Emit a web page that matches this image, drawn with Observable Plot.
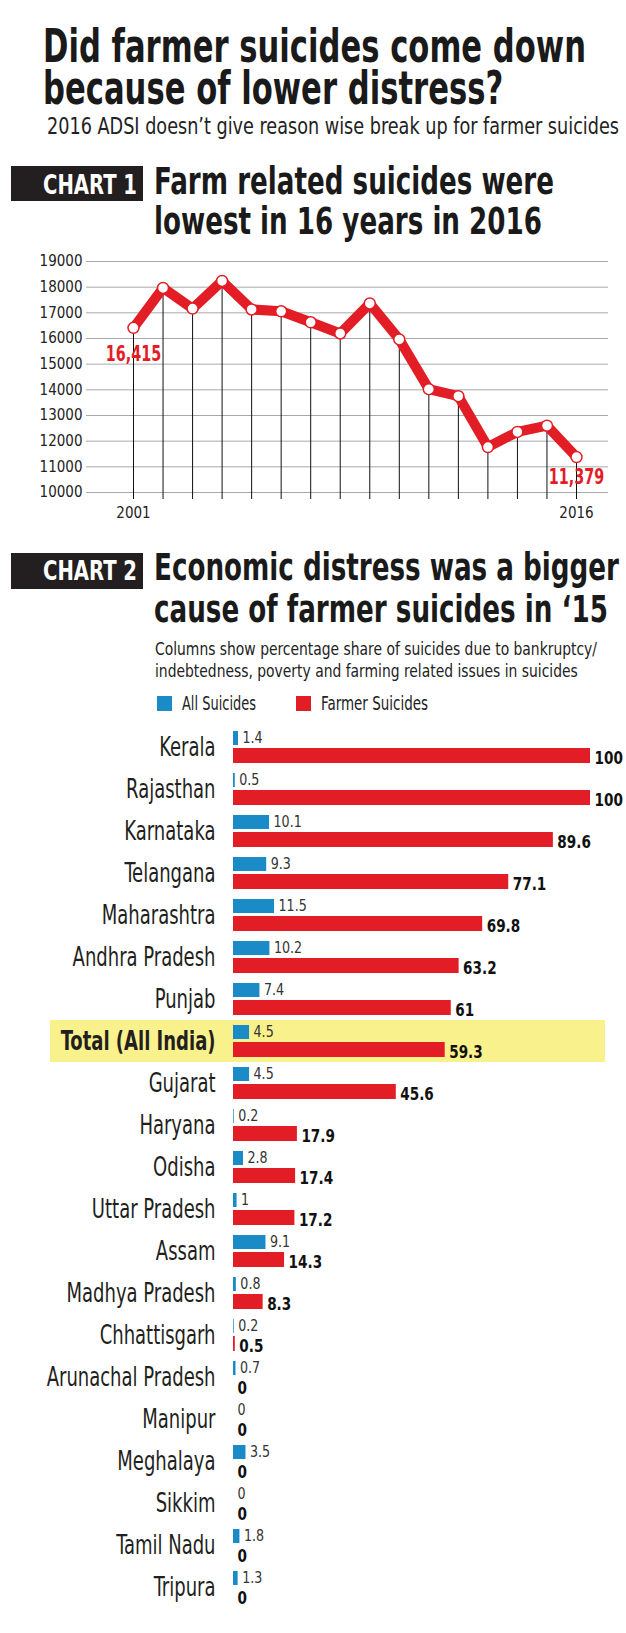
<!DOCTYPE html>
<html><head><meta charset="utf-8">
<script src="https://cdn.jsdelivr.net/npm/d3@7"></script>
<script src="https://cdn.jsdelivr.net/npm/@observablehq/plot@0.6"></script>
<style>
html,body{margin:0;padding:0;background:#fff;}
#page{position:relative;width:626px;height:1633px;overflow:hidden;background:#fff;}
#page > svg{position:absolute;left:0;}
.ht{position:absolute;white-space:nowrap;transform-origin:0 0;margin:0;padding:0;}
</style></head><body><div id="page"></div>
<script>
// ---------- DATA ----------
const years = [2001,2002,2003,2004,2005,2006,2007,2008,2009,2010,2011,2012,2013,2014,2015,2016];
const farmSuicides = [16415,17971,17164,18241,17131,17060,16632,16196,17368,15964,14027,13754,11772,12360,12602,11379];
const yTicks = [10000,11000,12000,13000,14000,15000,16000,17000,18000,19000];
const xTicks = [2001,2016];
const labelledYears = [2001,2016];

const states = ["Kerala","Rajasthan","Karnataka","Telangana","Maharashtra","Andhra Pradesh","Punjab","Total (All India)","Gujarat","Haryana","Odisha","Uttar Pradesh","Assam","Madhya Pradesh","Chhattisgarh","Arunachal Pradesh","Manipur","Meghalaya","Sikkim","Tamil Nadu","Tripura"];
const allSuicides = [1.4,0.5,10.1,9.3,11.5,10.2,7.4,4.5,4.5,0.2,2.8,1,9.1,0.8,0.2,0.7,0,3.5,0,1.8,1.3];
const farmerSuicides = [100,100,89.6,77.1,69.8,63.2,61,59.3,45.6,17.9,17.4,17.2,14.3,8.3,0.5,0,0,0,0,0,0];
const highlightState = "Total (All India)";
const seriesNames = ["All Suicides","Farmer Suicides"];

const title = ["Did farmer suicides come down","because of lower distress?"];
const subtitle = "2016 ADSI doesn\u2019t give reason wise break up for farmer suicides";
const chart1Tag = "CHART 1";
const chart1Head = ["Farm related suicides were","lowest in 16 years in 2016"];
const chart2Tag = "CHART 2";
const chart2Head = ["Economic distress was a bigger","cause of farmer suicides in \u201815"];
const chart2Note = ["Columns show percentage share of suicides due to bankruptcy/","indebtedness, poverty and farming related issues in suicides"];

// ---------- STYLE ----------
const FONT = "'Liberation Sans Narrow','DejaVu Sans Condensed','Roboto Condensed','Open Sans Condensed','Arial Narrow','Liberation Sans',sans-serif";
const RED = "#e31d25", BLUE = "#1a8bc7", INK = "#231f20", YELLOW = "#f9f18c";
const page = document.getElementById("page");
const ctx = document.createElement("canvas").getContext("2d");

// squeeze an svg text horizontally around its own anchor point
function squeeze(el, k, ax = 0, ay = 0){
  const t = el.getAttribute("transform") || "";
  el.setAttribute("transform", `${t} translate(${ax},${ay}) scale(${k},1) translate(${-ax},${-ay})`);
}

// HTML text block: x = left (or right edge when anchor "end"), baseline of first line, fitted width of first line
function hblock(lines, x, baseline, lh, size, weight, targetW, color = "#1a1a1a", anchor = "start"){
  const fontStr = `${weight} ${size}px ${FONT}`;
  ctx.font = fontStr;
  const m = ctx.measureText(lines[0]);
  const a = m.fontBoundingBoxAscent ?? size * 0.93, d = m.fontBoundingBoxDescent ?? size * 0.24;
  const L = lh || Math.ceil(a + d);
  const k = targetW / m.width;
  const div = document.createElement("div");
  div.className = "ht";
  div.style.font = fontStr;
  div.style.lineHeight = L + "px";
  div.style.color = color;
  div.style.left = (anchor === "end" ? x - targetW : x) + "px";
  div.style.top = (baseline - ((L - (a + d)) / 2 + a)) + "px";
  div.style.transform = `scaleX(${k})`;
  lines.forEach((s, i) => {
    if (i) div.appendChild(document.createElement("br"));
    div.appendChild(document.createTextNode(s));
  });
  page.appendChild(div);
}

// ---------- HEADER ----------
const head = d3.create("svg").attr("width",626).attr("height",712).style("top","0px");
head.append("rect").attr("x",11).attr("y",166).attr("width",132).attr("height",35).attr("fill",INK);
head.append("rect").attr("x",11).attr("y",553).attr("width",132).attr("height",36).attr("fill",INK);
const legendItems = [{name: seriesNames[0], color: BLUE, x: 157, w: 74}, {name: seriesNames[1], color: RED, x: 296, w: 107}];
for (const it of legendItems){
  head.append("rect").attr("x",it.x).attr("y",696).attr("width",15).attr("height",15).attr("fill",it.color);
}
page.appendChild(head.node());

hblock(title, 43, 62, 42, 47, "bold", 543);
hblock([subtitle], 47, 134, 0, 23, "normal", 572, "#222");
hblock([chart1Tag], 137, 194, 0, 26, "bold", 94, "#fff", "end");
hblock(chart1Head, 154, 194, 40, 37, "bold", 400);
hblock([chart2Tag], 137, 580, 0, 26, "bold", 94, "#fff", "end");
hblock(chart2Head, 154, 580, 42, 37, "bold", 465);
hblock(chart2Note, 155, 655, 22, 17, "normal", 442, "#222");
for (const it of legendItems) hblock([it.name], it.x + 25, 710, 0, 19, "normal", it.w, "#222");

// ---------- CHART 1 ----------
const line = years.map((year,i) => ({year, value: farmSuicides[i]}));
const labelled = line.filter(d => labelledYears.includes(d.year));
const c1 = Plot.plot({
  width: 626, height: 275,
  marginTop: 11, marginBottom: 33, marginLeft: 86, marginRight: 18,
  style: {fontFamily: FONT, background: "transparent", color: "#222"},
  x: {type: "linear", domain: [years[0], years[years.length-1]], insetLeft: 47, insetRight: 32},
  y: {domain: [yTicks[0], yTicks[yTicks.length-1]]},
  marks: [
    Plot.ruleY(yTicks, {stroke: "#a7a9ac", strokeWidth: 1}),
    Plot.axisY({ticks: yTicks, tickSize: 0, tickPadding: 4, fontSize: 15, tickFormat: d => String(d), label: null}),
    Plot.axisX({ticks: xTicks, tickSize: 0, tickPadding: 15, fontSize: 15, tickFormat: d => String(d), label: null}),
    Plot.ruleX(line, {x: "year", y1: "value", y2: yTicks[0], stroke: "#111", strokeWidth: 1, insetBottom: -7}),
    Plot.line(line, {x: "year", y: "value", stroke: RED, strokeWidth: 10, strokeLinejoin: "miter"}),
    Plot.dot(line, {x: "year", y: "value", r: 5.5, fill: "#fff", stroke: RED, strokeWidth: 1.5}),
    Plot.text(labelled.slice(0,1), {x: "year", y: "value", text: d => d3.format(",")(d.value), dy: 26, fill: RED, fontSize: 21, fontWeight: "bold"}),
    Plot.text(labelled.slice(1), {x: "year", y: "value", text: d => d3.format(",")(d.value), dy: 20, fill: RED, fontSize: 21, fontWeight: "bold"})
  ]
});
c1.style.top = "250px";
page.appendChild(c1);
c1.querySelectorAll("text").forEach(el => {
  if (getComputedStyle(el).fontSize === "21px") squeeze(el, 0.76);
});

// ---------- CHART 2 ----------
const rows = states.map((state,i) => ({state, all: allSuicides[i], farmer: farmerSuicides[i]}));
const STEP = 42.75;
const c2 = Plot.plot({
  width: 626, height: 912,
  marginTop: 6, marginBottom: 8, marginLeft: 233, marginRight: 36,
  style: {fontFamily: FONT, background: "transparent", color: INK},
  x: {domain: [0, 100], axis: null},
  y: {domain: states, paddingInner: 10/STEP, paddingOuter: 5/STEP},
  marks: [
    Plot.barX([highlightState], {y: d => d, x1: 0, x2: 100, insetLeft: -183, insetRight: -15, insetTop: -5, insetBottom: -5, fill: YELLOW}),
    Plot.ruleX(states, {x: 0, y: d => d, stroke: "#cfcfcf", strokeWidth: 1}),
    Plot.barX(rows, {y: "state", x: "all", fill: BLUE, insetBottom: 18}),
    Plot.barX(rows, {y: "state", x: "farmer", fill: RED, insetTop: 17}),
    Plot.text(rows, {y: "state", x: "all", text: d => String(d.all), textAnchor: "start", dx: 4, dy: -10, fontSize: 16, fill: "#333"}),
    Plot.text(rows, {y: "state", x: "farmer", text: d => String(d.farmer), textAnchor: "start", dx: 4, dy: 10.5, fontSize: 18, fontWeight: "bold", fill: "#111"}),
    Plot.axisY({tickSize: 0, tickPadding: 18, fontSize: 26, label: null, tickFormat: d => d === highlightState ? "" : d}),
    Plot.text([highlightState], {y: d => d, text: d => d, frameAnchor: "left", textAnchor: "end", dx: -18, fontSize: 26, fontWeight: "bold", fill: INK})
  ]
});
c2.style.top = "712px";
page.appendChild(c2);
const squeezeBySize = {"26px": 0.77, "18px": 0.84, "16px": 0.88};
c2.querySelectorAll("text").forEach(el => {
  const k = squeezeBySize[getComputedStyle(el).fontSize];
  if (k) squeeze(el, k);
});
</script></body></html>
